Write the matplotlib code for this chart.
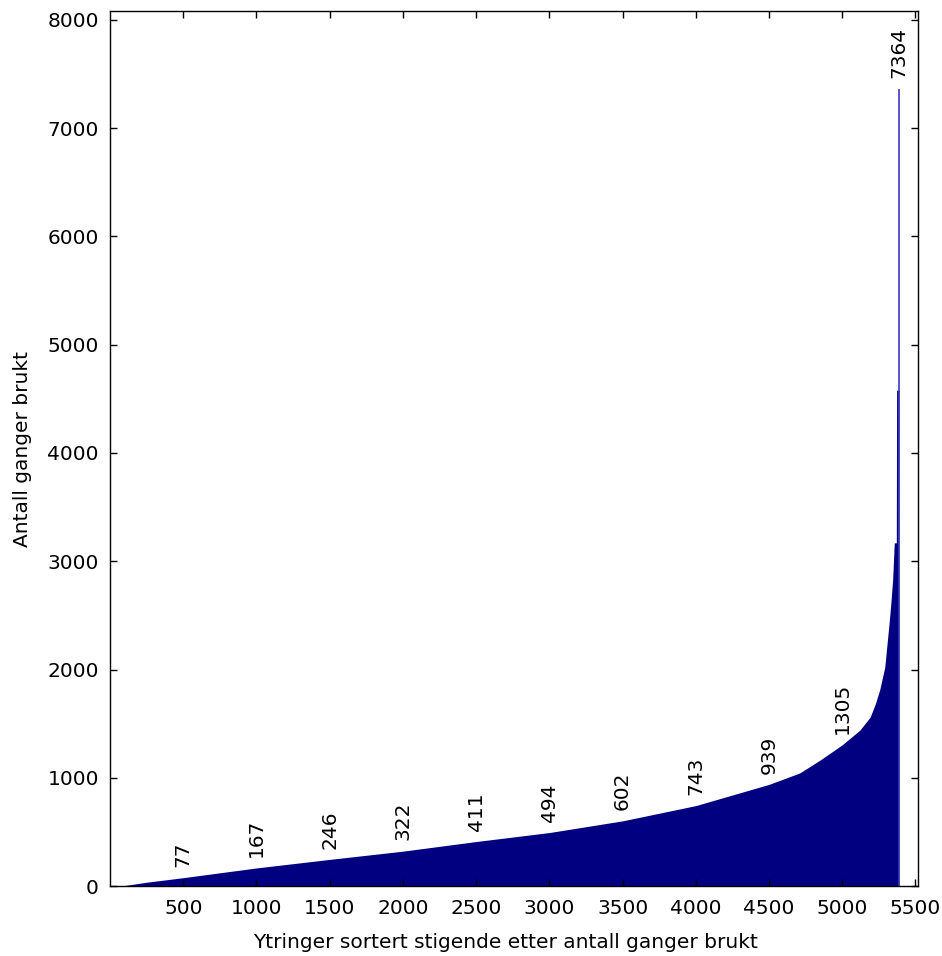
import matplotlib
matplotlib.use('Agg')
import numpy as np
import matplotlib.pyplot as plt

# points (rank, count)
rank = [1, 100, 250, 500, 1000, 1500, 2000, 2500, 3000, 3500, 4000, 4500,
        4710, 4850, 5000, 5120, 5190, 5225, 5255, 5275, 5290, 5303, 5317,
        5331, 5344, 5355, 5369, 5371, 5389]
count = [1, 5, 35, 77, 167, 246, 322, 411, 494, 602, 743, 939,
         1045, 1165, 1305, 1440, 1560, 1680, 1810, 1930, 2020, 2200, 2390,
         2600, 2830, 3170, 3170, 4580, 7364]

label_x = [500, 1000, 1500, 2000, 2500, 3000, 3500, 4000, 4500, 5000, 5385]
label_vals = [77, 167, 246, 322, 411, 494, 602, 743, 939, 1305, 7364]

xticks = [500, 1000, 1500, 2000, 2500, 3000, 3500, 4000, 4500, 5000, 5500]
yticks = [0, 1000, 2000, 3000, 4000, 5000, 6000, 7000, 8000]

plt.rcParams['font.family'] = ['DejaVu Sans']
fs = 14.5

fig = plt.figure(figsize=(9.42, 9.56), dpi=100)
ax = fig.add_axes([0.1168, 0.0732, 0.9742 - 0.1168, 0.9885 - 0.0732])

navy = '#000080'
# body of the curve, the second-last bar kept flat up to the spike
xs = rank[:-1] + [rank[-1] - 2]
ys = count[:-1] + [count[-2]]
ax.fill_between(xs, ys, 0, color=navy, linewidth=0)
ax.vlines(rank[-1], 0, count[-1], color='#3a3ac0', linewidth=1.2)

for x, v in zip(label_x, label_vals):
    ax.text(x, v + 100, str(v), rotation=90, ha='center', va='bottom', fontsize=fs)

ax.set_xlim(0, 5515)
ax.set_ylim(0, 8083)
ax.set_xticks(xticks)
ax.set_yticks(yticks)
ax.tick_params(direction='in', length=5, width=1, top=True, right=True,
               labelsize=fs)
ax.tick_params(axis='x', pad=9)
ax.tick_params(axis='y', pad=8)
for s in ax.spines.values():
    s.set_linewidth(1)

ax.set_xlabel('Ytringer sortert stigende etter antall ganger brukt', fontsize=fs, va='center')
ax.set_ylabel('Antall ganger brukt', fontsize=fs, va='center')
ax.xaxis.set_label_coords(0.49, -0.064)
ax.yaxis.set_label_coords(-0.108, 0.5)

fig.savefig('out.png', dpi=100)
